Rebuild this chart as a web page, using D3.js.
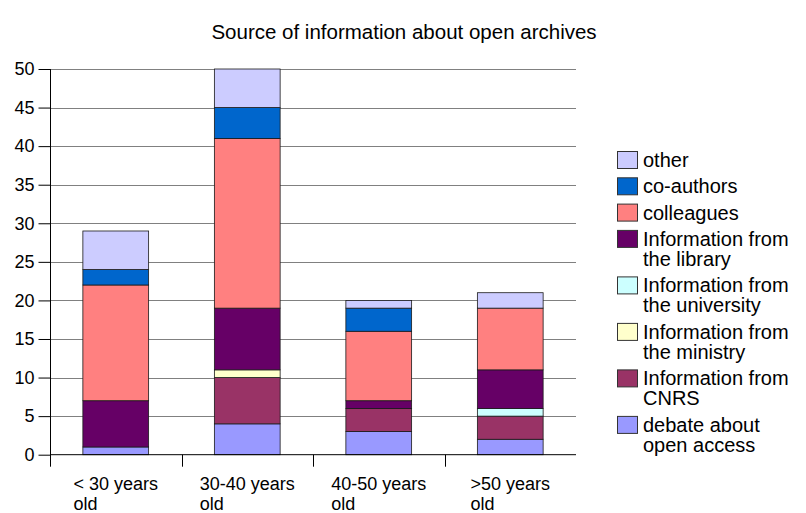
<!DOCTYPE html>
<html><head><meta charset="utf-8">
<script src="https://cdn.jsdelivr.net/npm/d3@7"></script>
<style>body{margin:0;background:#fff}svg{display:block}text{font-family:"Liberation Sans",Arial,sans-serif}</style>
</head><body>
<svg id="c" width="806" height="513"></svg>
<script>
const categories = ["< 30 years old", "30-40 years old", "40-50 years old", ">50 years old"];
const categoryLines = [["< 30 years","old"],["30-40 years","old"],["40-50 years","old"],[">50 years","old"]];
const seriesNames = ["debate about open access","Information from CNRS","Information from the ministry","Information from the university","Information from the library","colleagues","co-authors","other"];
const legendLines = [["debate about","open access"],["Information from","CNRS"],["Information from","the ministry"],["Information from","the university"],["Information from","the library"],["colleagues"],["co-authors"],["other"]];
const seriesColors = ["#9999ff","#993366","#ffffcc","#ccffff","#660066","#ff8080","#0066cc","#ccccff"];
const debate     = [1, 4, 3, 2];
const cnrs       = [0, 6, 3, 3];
const ministry   = [0, 1, 0, 0];
const university = [0, 0, 0, 1];
const library    = [6, 8, 1, 5];
const colleagues = [15, 22, 9, 8];
const coauthors  = [2, 4, 3, 0];
const other      = [5, 5, 1, 2];
const yTicks = [0,5,10,15,20,25,30,35,40,45,50];
const title = "Source of information about open archives";

const seriesValues = [debate, cnrs, ministry, university, library, colleagues, coauthors, other];
const rows = categories.map((c,i)=>{const r={cat:c}; seriesNames.forEach((s,j)=>r[s]=seriesValues[j][i]); return r;});
const stacked = d3.stack().keys(seriesNames)(rows);

const svg = d3.select("#c");
const L=50, R=576, T=69, B=454.7;
const x = d3.scaleBand().domain(categories).range([L,R]).paddingInner(0.5).paddingOuter(0.25);
const y = d3.scaleLinear().domain([0,50]).range([B,T]);

svg.append("text").attr("x",404).attr("y",39).attr("text-anchor","middle").attr("font-size",20.5).attr("fill","#000").text(title);

// gridlines
svg.append("g").selectAll("line").data(yTicks.filter(t=>t>0)).join("line")
  .attr("x1",L).attr("x2",R).attr("y1",d=>Math.round(y(d))+0.5).attr("y2",d=>Math.round(y(d))+0.5)
  .attr("stroke","#808080").attr("stroke-width",1);

// bars
const g = svg.append("g");
stacked.forEach((s,j)=>{
  g.selectAll(null).data(s.filter(d=>d[1]>d[0])).join("rect")
    .attr("x",(d)=>x(d.data.cat)).attr("width",x.bandwidth())
    .attr("y",d=>y(d[1])).attr("height",d=>y(d[0])-y(d[1]))
    .attr("fill",seriesColors[j]).attr("stroke","#1a1a1a").attr("stroke-width",0.8);
});

// y axis
const ya = svg.append("g").attr("transform",`translate(${L+0.5},0)`)
  .call(d3.axisLeft(y).tickValues(yTicks).tickSize(12).tickPadding(4).tickFormat(d3.format("d")));
ya.select(".domain").remove();
ya.selectAll(".tick line").attr("stroke","#000");
ya.selectAll("text").attr("font-size",18).attr("font-family","Liberation Sans, Arial, sans-serif").attr("fill","#000");
svg.append("line").attr("x1",L+0.5).attr("x2",L+0.5).attr("y1",T).attr("y2",B+12).attr("stroke","#000");

// x axis
svg.append("line").attr("x1",L).attr("x2",R).attr("y1",B).attr("y2",B).attr("stroke","#000");
const sep = [1,2,3].map(i=>x.range()[0]+i*x.step());
svg.append("g").selectAll("line").data(sep).join("line")
  .attr("x1",d=>Math.round(d)+0.5).attr("x2",d=>Math.round(d)+0.5).attr("y1",B).attr("y2",B+12).attr("stroke","#000");

const cl = svg.append("g");
categories.forEach((c,i)=>{
  const cx = x(c)+x.bandwidth()/2;
  const t = cl.append("text").attr("font-size",18).attr("fill","#000");
  categoryLines[i].forEach((ln,k)=>t.append("tspan").attr("x",0).attr("y",490+k*20).text(ln));
  const w = t.node().getBBox().width;
  t.selectAll("tspan").attr("x",cx-w/2);
});

// legend (top to bottom: reverse order)
const lg = svg.append("g");
let ly = 151;
for (let j=seriesNames.length-1;j>=0;j--){
  const lines = legendLines[j];
  lg.append("rect").attr("x",617.5).attr("y",ly+0.5).attr("width",20).attr("height",17)
    .attr("fill",seriesColors[j]).attr("stroke","#333").attr("stroke-width",1);
  const t = lg.append("text").attr("font-size",20).attr("fill","#000");
  lines.forEach((ln,k)=>t.append("tspan").attr("x",643).attr("y",ly+16+k*20).text(ln));
  ly += lines.length===1 ? 26.3 : 46.5;
}
</script>
</body></html>
